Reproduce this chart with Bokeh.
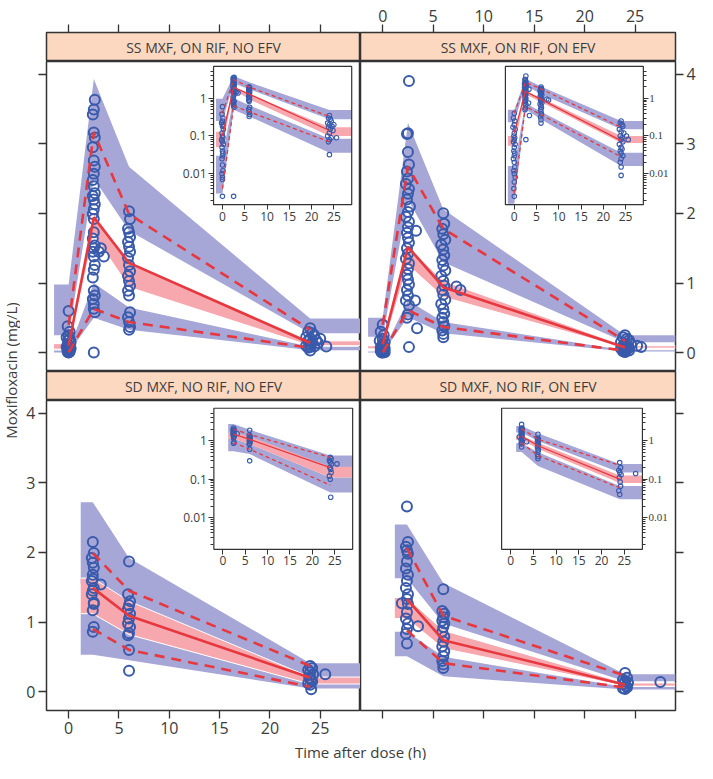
import math
from bokeh.plotting import figure
from bokeh.layouts import column, row
from bokeh.models import (Range1d, LinearAxis, LogAxis, LogScale, FixedTicker,
                          Label, CustomJSTickFormatter)
from bokeh.embed import file_html
from bokeh.resources import INLINE

# ---------------- data ----------------
TITLES = ["SS MXF, ON RIF, NO EFV", "SS MXF, ON RIF, ON EFV",
          "SD MXF, NO RIF, NO EFV", "SD MXF, NO RIF, ON EFV"]
X_LABEL = "Time after dose (h)"
Y_LABEL = "Moxifloxacin (mg/L)"
X_TICKS = [0, 5, 10, 15, 20, 25]
Y_TICKS = [0, 1, 2, 3, 4]
LOG_TICKS = [0.01, 0.1, 1]
LOG_MINOR = [0.002, 0.003, 0.004, 0.005, 0.006, 0.007, 0.008, 0.009,
             0.02, 0.03, 0.04, 0.05, 0.06, 0.07, 0.08, 0.09,
             0.2, 0.3, 0.4, 0.5, 0.6, 0.7, 0.8, 0.9, 2, 3, 4, 5]
X_LIMITS = (-2.2, 29.0)
Y_LIMITS = (-0.27, 4.18)
INSET_X_LIMITS = (-2.0, 29.0)
INSET_Y_LIMITS = (0.0015, 7.0)

# --- SS MXF, ON RIF, NO EFV (top left)
tl_bx = [-1.45, 0.0, 2.5, 6.0, 24.0, 29.0]
tl_u_lo = [0.25, 0.25, 2.5, 1.75, 0.28, 0.28]
tl_u_hi = [0.98, 0.98, 3.93, 2.67, 0.49, 0.49]
tl_m_lo = [0.05, 0.05, 1.70, 0.94, 0.10, 0.10]
tl_m_hi = [0.13, 0.13, 2.00, 1.31, 0.17, 0.17]
tl_l_lo = [0.003, 0.003, 0.50, 0.33, 0.036, 0.036]
tl_l_hi = [0.03, 0.03, 1.00, 0.65, 0.085, 0.085]
tl_ox = [0.0, 2.5, 6.0, 24.0]
tl_o95 = [0.4, 3.16, 1.99, 0.33]
tl_o50 = [0.1, 1.94, 1.29, 0.14]
tl_o05 = [0.004, 0.63, 0.44, 0.07]
tl_px = [0.0, -0.1, 0.1, 0.0, -0.2, 0.1, 0.0, 0.2, -0.1, 0.0, 0.1, -0.2, 0.0,
         0.2, -0.1, 0.0, 0.1, 0.0, -0.1, 0.0, 0.1, -0.1, 0.0, 0.0, 0.0,
         2.6, 2.5, 2.4, 2.5, 2.6, 2.4, 2.5, 2.6, 2.5, 2.4, 2.5, 2.6, 2.4, 2.5,
         2.6, 2.5, 2.4, 2.5, 2.5, 2.4, 2.6, 2.5, 2.4, 2.5, 2.6, 2.5, 2.4, 2.5,
         2.6, 2.4, 2.5, 2.5, 2.6, 2.5, 3.2, 3.5, 3.0,
         6.0, 6.1, 5.9, 6.0, 6.1, 5.9, 6.0, 6.1, 5.9, 6.0, 6.1, 5.9, 6.0, 6.1,
         5.9, 6.0, 6.1, 5.9, 6.0, 6.1, 6.0,
         24.0, 23.8, 24.2, 24.4, 23.6, 24.0, 24.6, 23.8, 24.2, 24.8, 24.0, 23.6,
         24.4, 24.0, 23.8, 24.0, 25.0, 25.6]
tl_py = [0.6, 0.38, 0.3, 0.25, 0.22, 0.2, 0.18, 0.15, 0.12, 0.1, 0.09, 0.08, 0.07,
         0.06, 0.05, 0.04, 0.035, 0.03, 0.025, 0.017, 0.012, 0.01, 0.008, 0.007, 0.0025,
         3.63, 3.49, 3.42, 3.16, 3.09, 2.95, 2.76, 2.67, 2.57, 2.48, 2.39, 2.29, 2.25, 2.2,
         2.13, 2.06, 1.99, 1.92, 1.73, 1.64, 1.54, 1.5, 1.45, 1.38, 1.26, 1.19, 1.08, 0.89,
         0.82, 0.77, 0.7, 0.63, 0.58, 0.0025, 1.5, 1.38, 1.45,
         2.03, 1.92, 1.78, 1.73, 1.66, 1.59, 1.52, 1.45, 1.36, 1.26, 1.17, 1.1, 1.03, 0.96,
         0.89, 0.82, 0.58, 0.51, 0.44, 0.37, 0.33,
         0.35, 0.3, 0.28, 0.25, 0.22, 0.2, 0.18, 0.17, 0.15, 0.14, 0.12, 0.1,
         0.09, 0.08, 0.07, 0.032, 0.2, 0.09]

# --- SS MXF, ON RIF, ON EFV (top right)
tr_bx = [-1.45, 0.0, 2.5, 6.0, 24.0, 29.0]
tr_u_lo = [0.23, 0.23, 2.2, 1.3, 0.15, 0.15]
tr_u_hi = [0.5, 0.5, 3.3, 2.06, 0.25, 0.25]
tr_m_lo = [0.055, 0.055, 1.26, 0.8, 0.065, 0.065]
tr_m_hi = [0.1, 0.1, 1.52, 1.03, 0.1, 0.1]
tr_l_lo = [0.0016, 0.0016, 0.51, 0.28, 0.016, 0.016]
tr_l_hi = [0.016, 0.016, 0.75, 0.44, 0.036, 0.036]
tr_ox = [0.0, 2.5, 6.0, 24.0]
tr_o95 = [0.4, 2.67, 1.78, 0.17]
tr_o50 = [0.12, 1.52, 0.94, 0.075]
tr_o05 = [0.003, 0.61, 0.37, 0.028]
tr_px = [0.0, -0.2, 0.1, 0.0, -0.3, 0.2, 0.0, -0.1, 0.1, 0.0, -0.2, 0.2, 0.0,
         -0.1, 0.1, 0.0, -0.2, 0.0, 0.1, -0.1, 0.0, 0.2, 0.0, -0.1, 0.0,
         2.6, 2.5, 2.4, 2.5, 2.6, 2.4, 2.5, 2.3, 2.6, 2.5, 2.4, 2.7, 2.5, 2.3,
         2.6, 2.5, 2.4, 2.5, 2.6, 2.4, 2.5, 2.3, 2.6, 2.5, 2.4, 2.5, 2.6, 2.4,
         2.5, 2.3, 2.6, 2.5, 2.4, 2.6, 3.3, 3.2, 3.4,
         6.0, 6.1, 5.9, 6.0, 6.2, 5.8, 6.0, 6.1, 5.9, 6.0, 6.2, 5.8, 6.0, 6.1,
         5.9, 6.0, 6.2, 5.8, 6.0, 6.1, 5.9, 6.0, 6.1, 5.9, 6.0, 6.0, 7.3, 7.7,
         24.0, 23.8, 24.2, 24.4, 23.6, 24.0, 24.6, 23.8, 24.2, 24.0, 24.4, 23.6,
         24.0, 24.2, 23.8, 24.0, 24.4, 24.0, 23.8, 24.0, 24.0, 25.2, 25.6]
tr_py = [0.4, 0.3, 0.25, 0.2, 0.17, 0.15, 0.12, 0.1, 0.09, 0.08, 0.07, 0.06, 0.05,
         0.04, 0.035, 0.03, 0.025, 0.02, 0.015, 0.012, 0.01, 0.008, 0.006, 0.004, 0.0025,
         3.9, 3.15, 3.14, 2.88, 2.7, 2.6, 2.5, 2.42, 2.35, 2.28, 2.2, 2.1, 2.02, 1.95,
         1.88, 1.8, 1.72, 1.65, 1.58, 1.5, 1.42, 1.35, 1.28, 1.2, 1.12, 1.05, 0.98, 0.9,
         0.82, 0.75, 0.68, 0.55, 0.5, 0.08, 1.75, 0.75, 0.35,
         2.0, 1.85, 1.78, 1.7, 1.62, 1.55, 1.48, 1.4, 1.33, 1.25, 1.18, 1.1, 1.03, 0.96,
         0.9, 0.83, 0.76, 0.7, 0.63, 0.56, 0.5, 0.44, 0.38, 0.32, 0.27, 0.22, 0.95, 0.9,
         0.25, 0.22, 0.2, 0.18, 0.15, 0.13, 0.12, 0.1, 0.09, 0.08, 0.07, 0.06,
         0.05, 0.045, 0.04, 0.035, 0.03, 0.025, 0.02, 0.015, 0.009, 0.1, 0.08]

# --- SD MXF, NO RIF, NO EFV (bottom left)
bl_bx = [1.2, 2.4, 6.0, 24.0, 29.0]
bl_u_lo = [1.55, 1.55, 1.2, 0.2, 0.2]
bl_u_hi = [2.72, 2.72, 1.92, 0.41, 0.41]
bl_m_lo = [1.12, 1.12, 0.82, 0.11, 0.11]
bl_m_hi = [1.63, 1.63, 1.3, 0.21, 0.21]
bl_l_lo = [0.53, 0.53, 0.45, 0.045, 0.045]
bl_l_hi = [1.12, 1.12, 0.82, 0.11, 0.11]
bl_ox = [2.4, 6.0, 24.0]
bl_o95 = [1.99, 1.45, 0.37]
bl_o50 = [1.49, 1.09, 0.20]
bl_o05 = [0.90, 0.60, 0.07]
bl_px = [2.4, 2.5, 2.3, 2.4, 2.5, 2.4, 2.3, 2.5, 2.4, 2.3, 2.5, 2.4, 2.5, 2.4, 2.4, 2.5, 3.2,
         6.0, 5.9, 6.1, 6.0, 5.9, 6.1, 6.0, 5.9, 6.1, 6.0, 5.9, 6.0, 6.0,
         24.0, 24.2, 23.8, 24.0, 24.3, 23.9, 24.1, 24.2, 23.8, 24.0, 24.1, 25.5]
bl_py = [2.15, 1.99, 1.92, 1.85, 1.78, 1.68, 1.59, 1.49, 1.45, 1.4, 1.28, 1.17, 0.93,
         0.86, 1.62, 1.26, 1.54,
         1.87, 1.4, 1.3, 1.24, 1.19, 1.12, 1.05, 0.98, 0.93, 0.84, 0.81, 0.6, 0.3,
         0.37, 0.34, 0.31, 0.28, 0.25, 0.2, 0.18, 0.15, 0.12, 0.1, 0.034, 0.25]

# --- SD MXF, NO RIF, ON EFV (bottom right)
br_bx = [1.2, 2.4, 6.0, 24.0, 29.0]
br_u_lo = [1.63, 1.63, 0.98, 0.15, 0.15]
br_u_hi = [2.4, 2.4, 1.56, 0.25, 0.25]
br_m_lo = [1.05, 1.05, 0.62, 0.08, 0.08]
br_m_hi = [1.35, 1.35, 0.88, 0.125, 0.125]
br_l_lo = [0.51, 0.51, 0.22, 0.03, 0.03]
br_l_hi = [0.86, 0.86, 0.5, 0.066, 0.066]
br_ox = [2.4, 6.0, 24.0]
br_o95 = [2.06, 1.09, 0.23]
br_o50 = [1.33, 0.74, 0.1]
br_o05 = [0.88, 0.41, 0.06]
br_px = [2.4, 2.5, 2.3, 2.4, 2.5, 2.4, 2.3, 2.5, 2.4, 2.3, 2.5, 2.4, 2.5, 2.4, 2.3, 2.5,
         2.4, 2.3, 2.4, 1.9, 3.5,
         6.0, 5.9, 6.1, 6.0, 5.9, 6.1, 6.0, 5.9, 6.1, 6.0, 5.9, 6.1, 6.0, 5.9, 6.0, 6.0,
         24.0, 24.2, 23.8, 24.0, 24.3, 23.9, 24.1, 24.2, 23.8, 24.0, 27.5]
br_py = [2.66, 2.15, 2.08, 2.03, 1.98, 1.87, 1.77, 1.68, 1.59, 1.49, 1.4, 1.33, 1.26,
         1.14, 1.05, 0.98, 0.9, 0.83, 0.69, 1.27, 0.94,
         1.47, 1.16, 1.12, 1.07, 1.02, 0.98, 0.93, 0.86, 0.79, 0.72, 0.65, 0.58, 0.51,
         0.44, 0.39, 0.34,
         0.27, 0.2, 0.17, 0.15, 0.13, 0.11, 0.085, 0.065, 0.05, 0.04, 0.14]

# ---------------- style / layout constants ----------------
FONT = "Open Sans"
TXT = "#3c3c3c"
EDGE = "#333333"
BLUE_BAND = "#a7a7d7"
PINK_BAND = "#f6a8ae"
RED = "#e8383f"
PT_BLUE = "#3a5aab"
STRIP = "#fdd8c1"

FRAME_W = (314, 315)
FRAME_H = 310
STRIP_H = 29
BORDER_L = 26
BORDER_R = 21
BORDER_TB = 32
YLAB_W = 20

# inset box as fractions of the panel frame: left, right, top, bottom (from top)
INSET_BOX = {
    "tl": (0.532, 0.972, 0.016, 0.462),
    "tr": (0.460, 0.898, 0.016, 0.462),
    "bl": (0.533, 0.975, 0.025, 0.480),
    "br": (0.448, 0.895, 0.025, 0.480),
}

XR = Range1d(*X_LIMITS)
YR = Range1d(*Y_LIMITS)


def style_axis(ax, size="16px", tick_out=8, standoff=3, font=FONT, show=True):
    ax.axis_line_color = None
    ax.major_tick_line_color = EDGE
    ax.major_tick_line_width = 1.3
    ax.major_tick_in = 0
    ax.major_tick_out = tick_out
    ax.minor_tick_line_color = None
    ax.major_label_standoff = standoff
    ax.major_label_text_font = font
    ax.major_label_text_font_size = size
    ax.major_label_text_color = TXT
    if not show:
        ax.formatter = CustomJSTickFormatter(code="return ''")
    return ax


def base_fig(col, frame_h, y_range, top=0, bottom=0):
    p = figure(frame_width=FRAME_W[col], frame_height=frame_h,
               x_range=XR, y_range=y_range, output_backend="svg",
               toolbar_location=None, x_axis_location=None, y_axis_location=None,
               min_border_left=BORDER_L if col == 0 else 0,
               min_border_right=0 if col == 0 else BORDER_R,
               min_border_top=top, min_border_bottom=bottom)
    p.outline_line_color = EDGE
    p.outline_line_width = 1.5
    p.background_fill_color = "white"
    p.border_fill_color = "white"
    p.grid.visible = False
    return p


def strip_fig(col, title, with_axis, show_labels):
    p = base_fig(col, STRIP_H, Range1d(0, 1), top=BORDER_TB if with_axis else 0)
    p.background_fill_color = STRIP
    if with_axis:
        p.add_layout(style_axis(LinearAxis(ticker=FixedTicker(ticks=X_TICKS)),
                                show=show_labels), "above")
    p.add_layout(Label(x=(X_LIMITS[0] + X_LIMITS[1]) / 2, y=0.5, text=title,
                       text_align="center", text_baseline="middle",
                       text_font=FONT, text_font_size="14px", text_color=TXT))
    return p


def draw_vpc(p, d, kw, main):
    bx, u_lo, u_hi, m_lo, m_hi, l_lo, l_hi, ox, o95, o50, o05, px, py = d
    p.varea(x=bx, y1=u_lo, y2=u_hi, fill_color=BLUE_BAND, **kw)
    p.varea(x=bx, y1=l_lo, y2=l_hi, fill_color=BLUE_BAND, **kw)
    p.varea(x=bx, y1=m_lo, y2=m_hi, fill_color=PINK_BAND, **kw)
    if main:
        p.line(bx, m_lo, line_color="white", line_width=1, **kw)
        p.line(bx, m_hi, line_color="white", line_width=1, **kw)
    p.scatter(px, py, marker="circle", size=10 if main else 4.5, fill_color=None,
              line_color=PT_BLUE, line_width=2 if main else 1.1, **kw)
    lw = 2.6 if main else 1.3
    dash = "10 7" if main else "4 3"
    p.line(ox, o50, line_color=RED, line_width=lw, **kw)
    p.line(ox, o95, line_color=RED, line_width=lw, line_dash=dash, **kw)
    p.line(ox, o05, line_color=RED, line_width=lw, line_dash=dash, **kw)


def main_fig(col, rowi, key, d):
    p = base_fig(col, FRAME_H, YR, bottom=BORDER_TB if rowi == 1 else 0)
    side = "left" if col == 0 else "right"
    show_y = (col == 0 and rowi == 1) or (col == 1 and rowi == 0)
    p.add_layout(style_axis(LinearAxis(ticker=FixedTicker(ticks=Y_TICKS)), show=show_y), side)
    if rowi == 1:
        p.add_layout(style_axis(LinearAxis(ticker=FixedTicker(ticks=X_TICKS)),
                                show=(col == 0)), "below")

    draw_vpc(p, d, {}, True)

    # inset (log scale) mapped into a sub-box of the frame
    fl, fr, ft, fb = INSET_BOX[key]
    a, b = INSET_X_LIMITS
    span = (b - a) / (fr - fl)
    p.extra_x_ranges = {"ix": Range1d(a - fl * span, a + (1 - fl) * span)}
    la, lb = math.log10(INSET_Y_LIMITS[0]), math.log10(INSET_Y_LIMITS[1])
    g0, g1 = 1 - fb, 1 - ft
    lspan = (lb - la) / (g1 - g0)
    p.extra_y_ranges = {"iy": Range1d(10 ** (la - g0 * lspan), 10 ** (la + (1 - g0) * lspan))}
    p.extra_y_scales = {"iy": LogScale()}
    kw = dict(x_range_name="ix", y_range_name="iy")

    p.quad(left=[a], right=[b], bottom=[INSET_Y_LIMITS[0]], top=[INSET_Y_LIMITS[1]],
           fill_color="white", line_color=None, **kw)
    draw_vpc(p, d, kw, False)
    p.quad(left=[a], right=[b], bottom=[INSET_Y_LIMITS[0]], top=[INSET_Y_LIMITS[1]],
           fill_color=None, line_color=EDGE, line_width=1.2, **kw)

    ixa = LinearAxis(ticker=FixedTicker(ticks=X_TICKS), x_range_name="ix", y_range_name="iy",
                     fixed_location=INSET_Y_LIMITS[0], bounds=INSET_X_LIMITS)
    style_axis(ixa, size="12px", tick_out=5, standoff=2)
    ixa.major_tick_line_width = 1
    p.add_layout(ixa, "below")

    yside = "left" if col == 0 else "right"
    iya = LogAxis(ticker=FixedTicker(ticks=LOG_TICKS, minor_ticks=LOG_MINOR),
                  x_range_name="ix", y_range_name="iy",
                  fixed_location=a if col == 0 else b, bounds=INSET_Y_LIMITS)
    if col == 0:
        style_axis(iya, size="12px", tick_out=5, standoff=2)
    else:
        style_axis(iya, size="11px", tick_out=5, standoff=1, font="Liberation Serif")
    iya.formatter = CustomJSTickFormatter(code="return String(tick)")
    iya.major_tick_line_width = 1
    iya.minor_tick_line_color = EDGE
    iya.minor_tick_line_width = 1
    iya.minor_tick_in = 0
    iya.minor_tick_out = 3
    p.add_layout(iya, yside)
    return p


DATA = {
    "tl": (tl_bx, tl_u_lo, tl_u_hi, tl_m_lo, tl_m_hi, tl_l_lo, tl_l_hi,
           tl_ox, tl_o95, tl_o50, tl_o05, tl_px, tl_py),
    "tr": (tr_bx, tr_u_lo, tr_u_hi, tr_m_lo, tr_m_hi, tr_l_lo, tr_l_hi,
           tr_ox, tr_o95, tr_o50, tr_o05, tr_px, tr_py),
    "bl": (bl_bx, bl_u_lo, bl_u_hi, bl_m_lo, bl_m_hi, bl_l_lo, bl_l_hi,
           bl_ox, bl_o95, bl_o50, bl_o05, bl_px, bl_py),
    "br": (br_bx, br_u_lo, br_u_hi, br_m_lo, br_m_hi, br_l_lo, br_l_hi,
           br_ox, br_o95, br_o50, br_o05, br_px, br_py),
}

s_tl = strip_fig(0, TITLES[0], True, False)
s_tr = strip_fig(1, TITLES[1], True, True)
s_bl = strip_fig(0, TITLES[2], False, False)
s_br = strip_fig(1, TITLES[3], False, False)
m_tl = main_fig(0, 0, "tl", DATA["tl"])
m_tr = main_fig(1, 0, "tr", DATA["tr"])
m_bl = main_fig(0, 1, "bl", DATA["bl"])
m_br = main_fig(1, 1, "br", DATA["br"])

total_h = BORDER_TB + STRIP_H + FRAME_H + STRIP_H + FRAME_H + BORDER_TB
ylab = figure(frame_width=YLAB_W, frame_height=total_h, x_range=Range1d(0, YLAB_W),
              y_range=Range1d(total_h, 0), output_backend="svg", toolbar_location=None,
              x_axis_location=None, y_axis_location=None,
              min_border_left=0, min_border_right=0, min_border_top=0, min_border_bottom=0)
ylab.outline_line_color = None
ylab.grid.visible = False
ylab.add_layout(Label(x=YLAB_W / 2, y=370, text=Y_LABEL, angle=math.pi / 2,
                      text_align="center", text_baseline="middle",
                      text_font=FONT, text_font_size="15px", text_color=TXT))

total_w = YLAB_W + BORDER_L + FRAME_W[0] + FRAME_W[1] + BORDER_R
xlab = figure(frame_width=total_w, frame_height=18, x_range=Range1d(0, total_w),
              y_range=Range1d(0, 18), output_backend="svg", toolbar_location=None,
              x_axis_location=None, y_axis_location=None,
              min_border_left=0, min_border_right=0, min_border_top=0, min_border_bottom=0)
xlab.outline_line_color = None
xlab.grid.visible = False
xlab.add_layout(Label(x=YLAB_W + BORDER_L + FRAME_W[0], y=9, text=X_LABEL,
                      text_align="center", text_baseline="middle",
                      text_font=FONT, text_font_size="15px", text_color=TXT))

layout = column(row(ylab, column(s_tl, m_tl, s_bl, m_bl), column(s_tr, m_tr, s_br, m_br)),
                xlab)

open("out.html", "w").write(file_html(layout, INLINE))
